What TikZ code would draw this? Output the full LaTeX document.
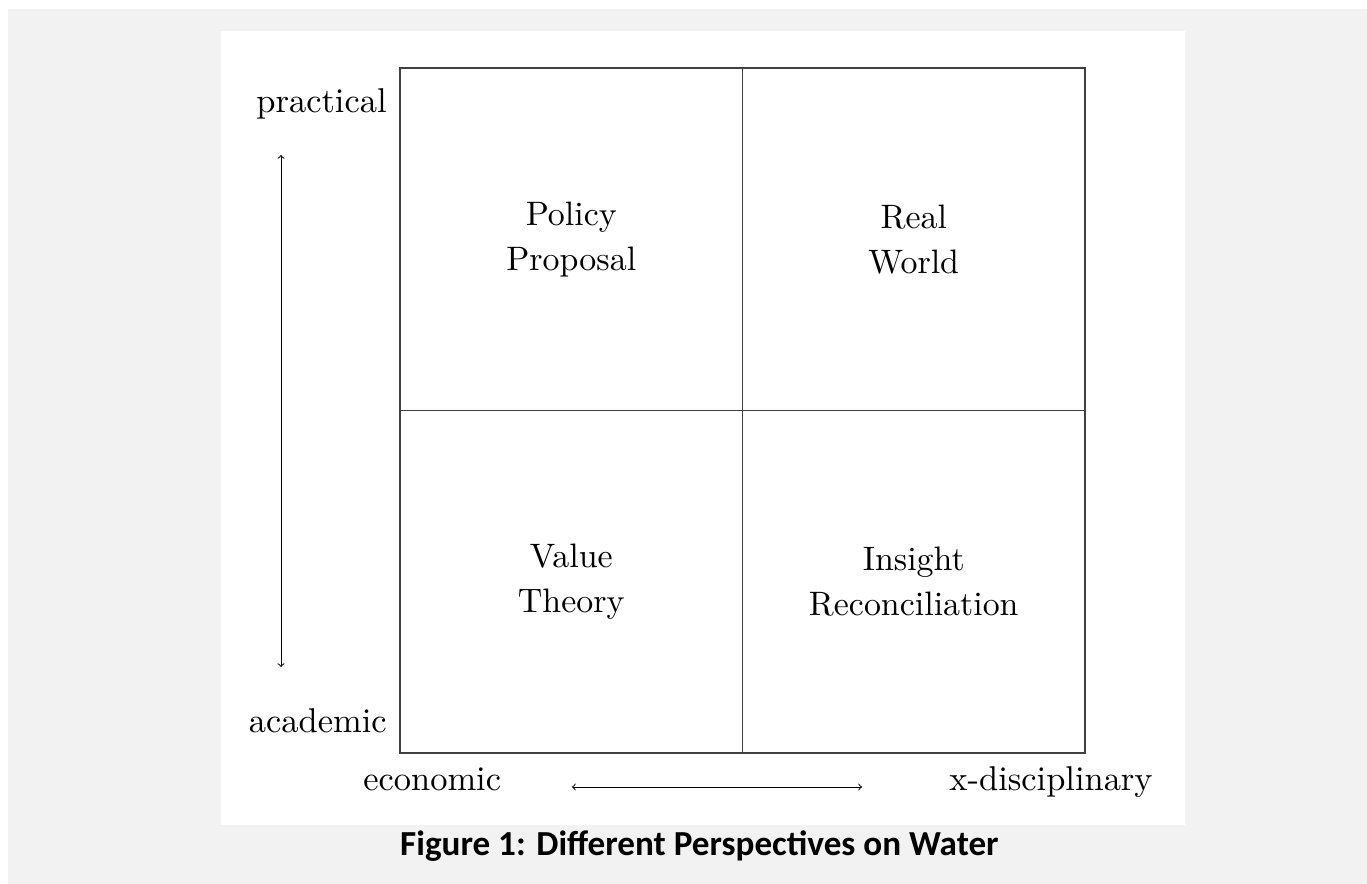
\documentclass[tikz,border=0pt]{standalone}
\usepackage{fontspec}
\newfontfamily\capfont{Carlito}
\newfontfamily\lmten[Ligatures=TeX]{lmroman10-regular.otf}
\usetikzlibrary{positioning}

\begin{document}
\begin{tikzpicture} [
    quad/.style  = { rectangle, draw=black!75, line width=0.9pt,
                     minimum width=6.85cm, minimum height=6.85cm,
                     inner sep=0pt, outer sep=0pt, align=center,
                     font=\lmten\fontsize{19.3}{25.5}\selectfont },
    axis/.style  = { font=\lmten\fontsize{19.6}{24}\selectfont, inner sep=0pt },
    line/.style  = { draw, line width=0.55pt, <-> },
  ]
\useasboundingbox (0,0) rectangle (27.34,-17.68);
\fill[black!5] (0.16,-0.18) rectangle (27.34,-17.68);
\fill[white] (4.42,-0.62) rectangle (23.7,-16.5);

% the four quadrants
\node (policy) [quad] at (11.425,-4.785) {Policy\\Proposal};
\node (real) [quad,right=0pt of policy] {Real\\World};
\node (value) [quad,below=0pt of policy] {Value\\Theory};
\node (insight) [quad,right=0pt of value] {Insight\\Reconciliation};

% axes
\node (practical) [axis,anchor=base east] at (7.74,-2.26) {practical};
\node (academic) [axis,anchor=base east] at (7.74,-14.64) {academic};
\node (economic) [axis,anchor=base west] at (7.26,-15.8) {economic};
\node (xdisc) [axis,anchor=base east] at (23.06,-15.8) {x-disciplinary};

\coordinate (top) at (5.62,-3.1);
\coordinate (bottom) at (5.62,-13.34);
\coordinate (left) at (11.44,-15.74);
\coordinate (right) at (17.24,-15.74);

\begin{scope}[every path/.style=line]
\path (top) -- (bottom);
\path (left) -- (right);
\end{scope}

\node (caption) [anchor=base, font=\capfont\bfseries\fontsize{20}{24}\selectfont]
  at (13.99,-17.1) {Figure 1: Different Perspectives on Water};

\end{tikzpicture}
\end{document}
